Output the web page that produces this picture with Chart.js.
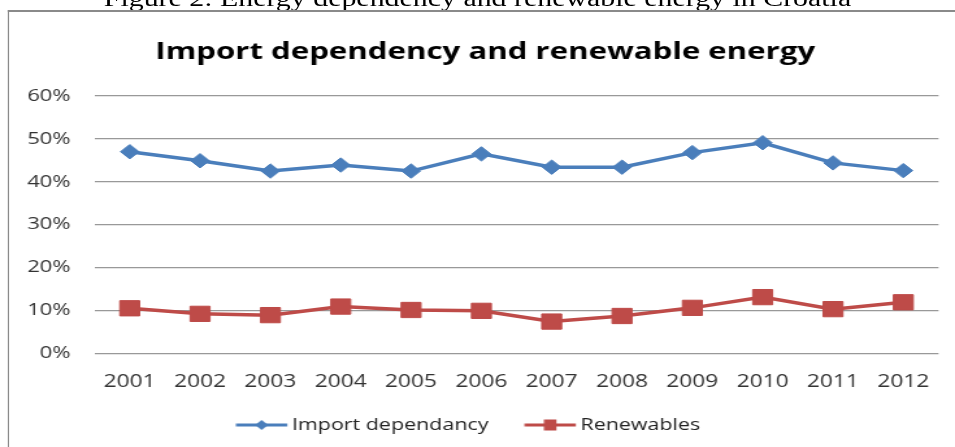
<!DOCTYPE html>
<html>
<head>
<meta charset="utf-8">
<script src="https://cdn.jsdelivr.net/npm/chart.js@4.4.1/dist/chart.umd.min.js"></script>
<style>
  html, body { margin: 0; padding: 0; background: #fff; overflow: hidden; width: 955px; height: 447px; }
  #wrap { position: absolute; left: 0; top: 0; width: 735px; height: 447px; transform: scaleX(1.2993); transform-origin: 0 0; }
  #cap { position: absolute; left: 0; top: -13px; width: 735px; text-align: center; font-family: "Liberation Serif", serif; font-size: 23px; line-height: 23px; color: #000; white-space: nowrap; }
  #frame { position: absolute; left: 6px; top: 10px; width: 800px; height: 500px; border-left: 1.6px solid #8a8a8a; border-top: 2px solid #8a8a8a; }
  #c { position: absolute; left: 0; top: 0; }
</style>
</head>
<body>
<div id="wrap">
  <div id="cap">Figure 2: Energy dependency and renewable energy in Croatia</div>
  <div id="frame"></div>
  <canvas id="c" width="735" height="447"></canvas>
</div>
<script>
const years = ['2001','2002','2003','2004','2005','2006','2007','2008','2009','2010','2011','2012'];
const importDependancy = [47.0, 44.9, 42.5, 43.9, 42.5, 46.5, 43.4, 43.4, 46.8, 49.1, 44.4, 42.6];
const renewables = [10.5, 9.2, 8.9, 10.9, 10.1, 9.9, 7.4, 8.7, 10.6, 13.1, 10.3, 11.9];
const seriesNames = ['Import dependancy', 'Renewables'];
const yMax = 60, yStep = 10;

const BLUE = '#4a7ebb', RED = '#be4b48';

// legend sample images (line with marker)
const LEG_PAD = 6, LEAD = 21.7, LINE_LEN = 39.5, GAP_TXT = 3.6, FONT = 16.5;
const BOXW = LINE_LEN + LEAD + GAP_TXT - FONT / 2;
function legendImage(color, kind) {
  const bw = BOXW;
  const lineStart = LEAD, lineEnd = bw + FONT / 2 - GAP_TXT;
  const cx = bw / 2;
  const half = Math.ceil(Math.max(cx - lineStart, lineEnd - cx)) + 1;
  const c = document.createElement('canvas');
  c.width = half * 2; c.height = 20;
  const g = c.getContext('2d');
  const off = half - cx;
  const x0 = lineStart + off, x1 = lineEnd + off, mx = (x0 + x1) / 2, my = 10;
  g.strokeStyle = color; g.lineWidth = 3;
  g.beginPath(); g.moveTo(x0, my); g.lineTo(x1, my); g.stroke();
  g.fillStyle = color;
  if (kind === 'diamond') {
    g.beginPath(); g.moveTo(mx - 5, my); g.lineTo(mx, my - 5); g.lineTo(mx + 5, my); g.lineTo(mx, my + 5); g.closePath(); g.fill();
  } else {
    g.fillRect(mx - 4.8, my - 5.5, 9.6, 11);
  }
  return c;
}
const legImgs = [legendImage(BLUE, 'diamond'), legendImage(RED, 'square')];

const boxShift = {
  id: 'boxShift',
  afterLayout(chart) {
    const lg = chart.legend;
    if (lg) { lg.left -= 13; lg.right -= 13; }
    const tb = chart.titleBlock;
    if (tb) { tb.left += 11; tb.right += 11; }
  }
};

new Chart(document.getElementById('c'), {
  type: 'line',
  data: {
    labels: years,
    datasets: [
      { label: seriesNames[0], data: importDependancy, borderColor: BLUE, backgroundColor: BLUE,
        borderWidth: 3.5, pointStyle: 'rectRot', pointRadius: 7.2, pointBorderWidth: 1, pointBackgroundColor: BLUE, pointBorderColor: BLUE, tension: 0 },
      { label: seriesNames[1], data: renewables, borderColor: RED, backgroundColor: RED,
        borderWidth: 3.5, pointStyle: 'rect', pointRadius: 10.8, pointBorderWidth: 1, pointBackgroundColor: RED, pointBorderColor: RED, tension: 0 }
    ]
  },
  plugins: [boxShift],
  options: {
    responsive: false,
    animation: false,
    layout: { padding: { left: 2.5, right: 12.7, top: 0, bottom: 3.8 } },
    plugins: {
      tooltip: { enabled: false },
      title: {
        display: true,
        text: 'Import dependency and renewable energy',
        color: '#000',
        font: { family: '"Open Sans", sans-serif', size: 24, weight: 'bold' },
        padding: { top: 37.6, bottom: 29.6 }
      },
      legend: {
        display: true,
        position: 'bottom',
        labels: {
          color: '#222',
          font: { family: '"Open Sans", sans-serif', size: FONT },
          padding: LEG_PAD,
          usePointStyle: true,
          pointStyleWidth: BOXW,
          generateLabels: (chart) => chart.data.datasets.map((ds, i) => ({
            text: ds.label, fillStyle: ds.borderColor, strokeStyle: ds.borderColor,
            lineWidth: 0, pointStyle: legImgs[i], datasetIndex: i, hidden: false, fontColor: '#222'
          }))
        }
      }
    },
    scales: {
      x: {
        offset: true,
        grid: { display: false, drawTicks: false, offset: true },
        border: { display: false },
        ticks: { color: '#333', padding: 18.2, maxRotation: 0, minRotation: 0, autoSkip: false,
                 font: { family: '"Open Sans", sans-serif', size: 17.5 } }
      },
      y: {
        min: 0, max: yMax,
        grid: { color: '#999', lineWidth: 1.2, drawTicks: false },
        border: { display: false },
        ticks: { stepSize: yStep, color: '#333', padding: 18.4, font: { family: '"Open Sans", sans-serif', size: 17 },
                 callback: (v) => v + '%' }
      }
    }
  }
});
</script>
</body>
</html>
